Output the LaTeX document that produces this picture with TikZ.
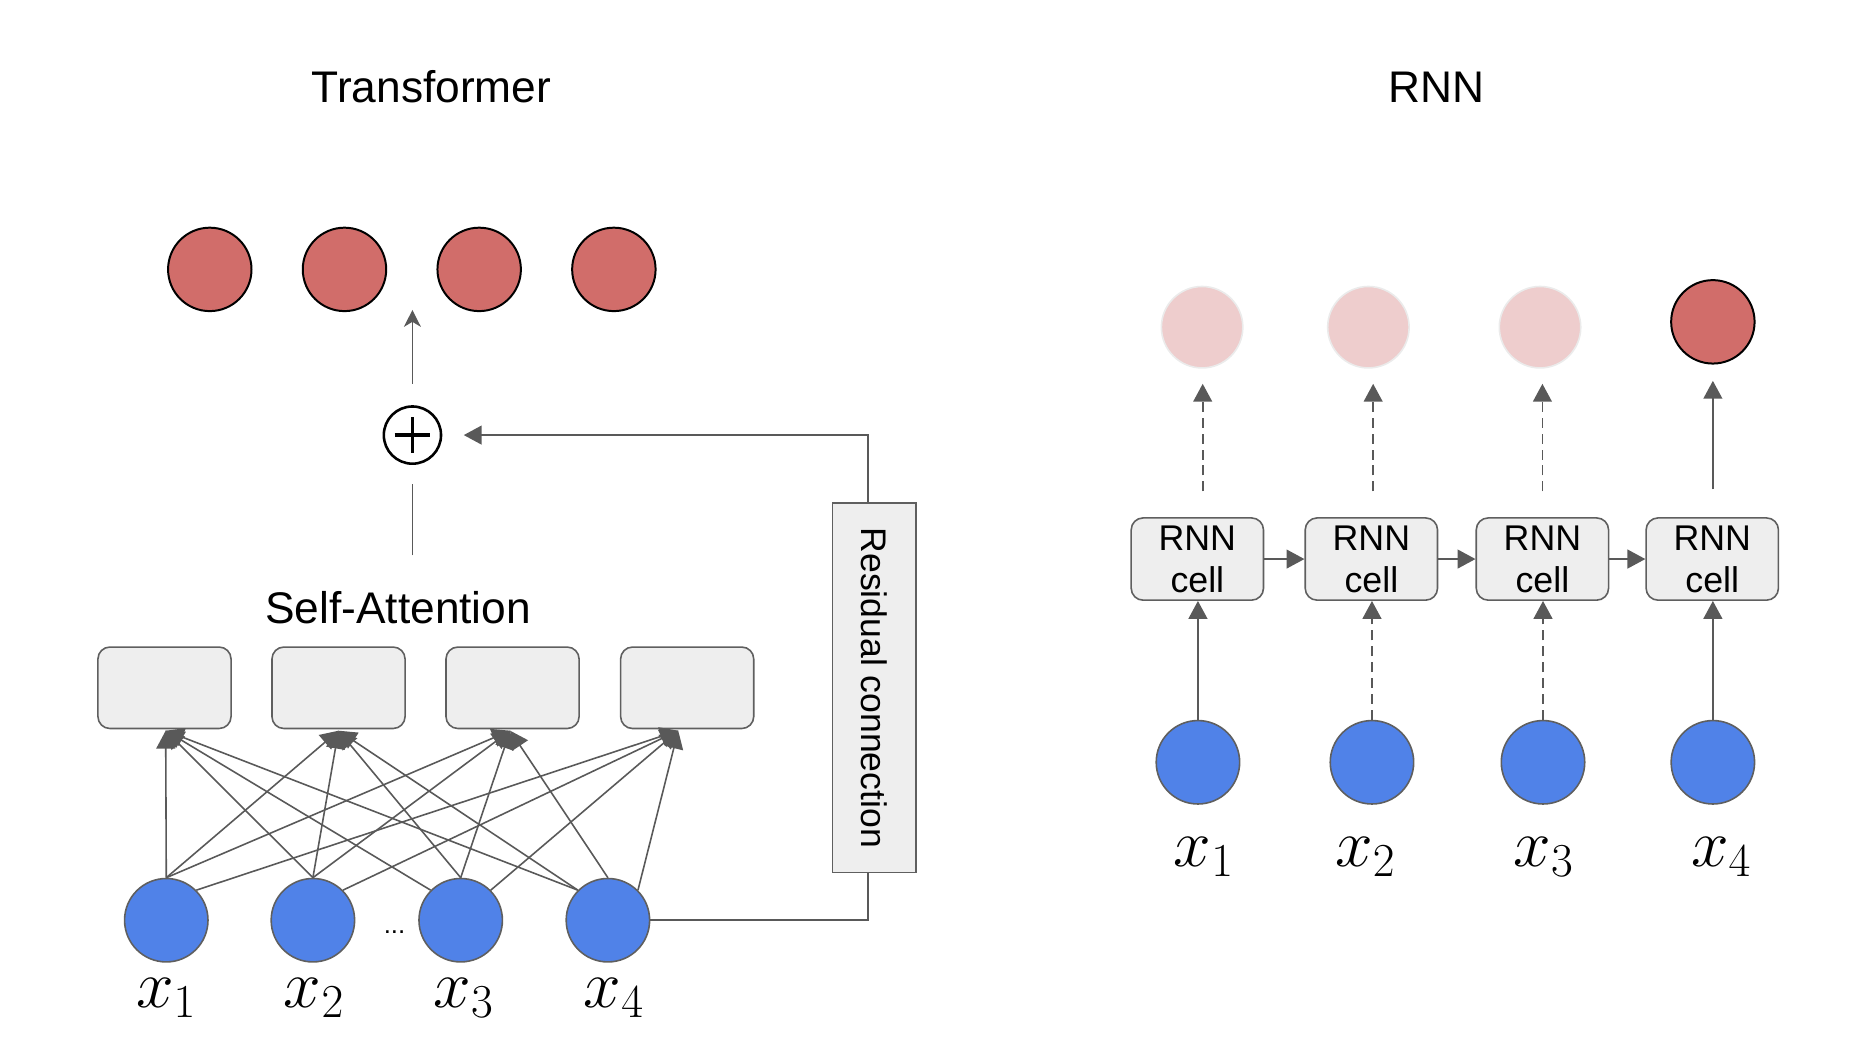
\RequirePackage{fix-cm}
\documentclass[tikz,border=0pt]{standalone}
\usepackage{fontspec}
\setmainfont{Liberation Sans}
\usetikzlibrary{arrows.meta,calc}
\definecolor{redc}{HTML}{D16D6A}
\definecolor{bluec}{HTML}{5082E8}
\definecolor{pinkc}{HTML}{EECDCD}
\definecolor{boxg}{HTML}{EEEEEE}
\definecolor{strokeg}{HTML}{5F5F5F}
\definecolor{lineg}{HTML}{595959}
\begin{document}
\begin{tikzpicture}[x=0.6pt,y=-0.6pt,
  outc/.style={circle,draw=black,line width=1pt,fill=redc,minimum size=42pt,inner sep=0pt},
  fadec/.style={circle,draw=black!8,line width=0.8pt,fill=pinkc,minimum size=41pt,inner sep=0pt},
  inc/.style={circle,draw=strokeg,line width=0.8pt,fill=bluec,minimum size=42pt,inner sep=0pt},
  sabox/.style={rectangle,rounded corners=6pt,draw=strokeg,fill=boxg,line width=0.8pt,minimum width=67pt,minimum height=41pt,inner sep=0pt},
  rnnbox/.style={sabox,minimum width=66.6pt,minimum height=41.4pt,align=center,font=\fontsize{18}{21}\selectfont},
  conn/.style={draw=lineg,line width=0.8pt},
  tri/.style={-{Triangle[length=9pt,width=9.5pt]}},
  dashln/.style={dash pattern=on 5pt off 3pt},
  title/.style={font=\fontsize{22.3}{26}\selectfont},
  lab/.style={font=\fontsize{34}{40}\selectfont,anchor=base,inner sep=0pt}]
\useasboundingbox (0,0) rectangle (1568,883);

% ---------------- Transformer ----------------
\node[title] (ttitle) at (362,73) {Transformer};

\node[outc] (o1) at (176,226) {};
\node[outc] (o2) at (289,226) {};
\node[outc] (o3) at (402,226) {};
\node[outc] (o4) at (515,226) {};
\coordinate (otop) at (346,260);

\node[circle,draw=black,line width=1.3pt,minimum size=28.8pt,inner sep=0pt,
  path picture={\draw[line width=1.6pt] ($(path picture bounding box.center)+(-15,0)$) -- ++(30,0);
                \draw[line width=1.6pt] ($(path picture bounding box.center)+(0,-15)$) -- ++(0,30);}]
  (plus) at (346,365) {};

\node[title] (sa) at (334,510) {Self-Attention};
\coordinate (satop) at (346,466);

\node[sabox] (b1) at (138,577) {};
\node[sabox] (b2) at (284,577) {};
\node[sabox] (b3) at (430,577) {};
\node[sabox] (b4) at (576.5,577) {};
\coordinate (t1) at (139,613);
\coordinate (t2) at (284,613);
\coordinate (t3) at (428,613);
\coordinate (t4) at (569,613);

\node[inc] (x1) at (139.5,772) {};
\node[inc] (x2) at (262.5,772) {};
\node[inc] (x3) at (386.5,772) {};
\node[inc] (x4) at (510,772) {};
\node[font=\fontsize{13}{15}\selectfont,anchor=base,inner sep=0pt] (dots) at (331,783) {...};

\node[lab] (l1) at (139.5,845) {$x_1$};
\node[lab] (l2) at (263.5,845) {$x_2$};
\node[lab] (l3) at (389,845) {$x_3$};
\node[lab] (l4) at (515,845) {$x_4$};

\node[draw=strokeg,fill=boxg,line width=0.8pt,minimum width=186pt,minimum height=42pt,
  inner sep=0pt,rotate=-90,font=\fontsize{17.9}{21}\selectfont] (res) at (733.5,577) {Residual connection};
\coordinate (rbot) at ([xshift=-3.3pt]res.east);
\coordinate (rtop) at ([xshift=-3.3pt]res.west);

% connectors
\draw[conn,-{Stealth[length=8.5pt,width=8.5pt,inset=2.5pt]},shorten <=10.8pt] (plus.north) -- (otop);
\draw[conn,shorten >=9.6pt] (satop) -- (plus.south);
\draw[conn,tri,shorten >=10.8pt] (rtop) |- (plus.east);
\draw[conn] (x4.east) -- (x4.east -| rbot) -- (rbot);

\foreach \s/\t in {x1.north/t1, x1.north/t2, x1.north/t3, x1.north east/t4,
                   x2.north/t1, x2.north/t2, x2.north/t3, x2.north east/t4,
                   x3.north west/t1, x3.north/t2, x3.north/t3, x3.north east/t4,
                   x4.north west/t1, x4.north west/t2, x4.north/t3, x4.north east/t4}
  \draw[conn,tri] (\s) -- (\t);

% ---------------- RNN ----------------
\node[title] (rtitle) at (1205,73) {RNN};

\node[fadec] (f1) at (1008.5,274.5) {};
\node[fadec] (f2) at (1148,274.5) {};
\node[fadec] (f3) at (1292,274.5) {};
\node[outc] (f4) at (1437,270) {};
\coordinate (a1) at (1009,322);
\coordinate (a2) at (1152,322);
\coordinate (a3) at (1294,322);
\coordinate (a4) at (1437,319.5);

\node[rnnbox] (c1) at (1004.5,469) {RNN\\cell};
\node[rnnbox] (c2) at (1150.5,469) {RNN\\cell};
\node[rnnbox] (c3) at (1294,469) {RNN\\cell};
\node[rnnbox] (c4) at (1436.5,469) {RNN\\cell};

\node[inc] (y1) at (1005,639.5) {};
\node[inc] (y2) at (1151,639.5) {};
\node[inc] (y3) at (1294.5,639.5) {};
\node[inc] (y4) at (1437,639.5) {};

\node[lab] (m1) at (1010,727) {$x_1$};
\node[lab] (m2) at (1145.5,727) {$x_2$};
\node[lab] (m3) at (1295,727) {$x_3$};
\node[lab] (m4) at (1444,727) {$x_4$};

\draw[conn,tri,dashln,shorten <=13pt] (c1.north -| a1) -- (a1);
\draw[conn,tri,dashln,shorten <=13pt] (c2.north -| a2) -- (a2);
\draw[conn,tri,dashln,shorten <=13pt] (c3.north -| a3) -- (a3);
\draw[conn,tri,shorten <=14pt] (c4.north -| a4) -- (a4);

\draw[conn,tri] (c1.east) -- (c2.west);
\draw[conn,tri] (c2.east) -- (c3.west);
\draw[conn,tri] (c3.east) -- (c4.west);

\draw[conn,tri] (y1.north) -- (c1.south -| y1.north);
\draw[conn,tri,dashln] (y2.north) -- (c2.south -| y2.north);
\draw[conn,tri,dashln] (y3.north) -- (c3.south -| y3.north);
\draw[conn,tri] (y4.north) -- (c4.south -| y4.north);
\end{tikzpicture}
\end{document}
